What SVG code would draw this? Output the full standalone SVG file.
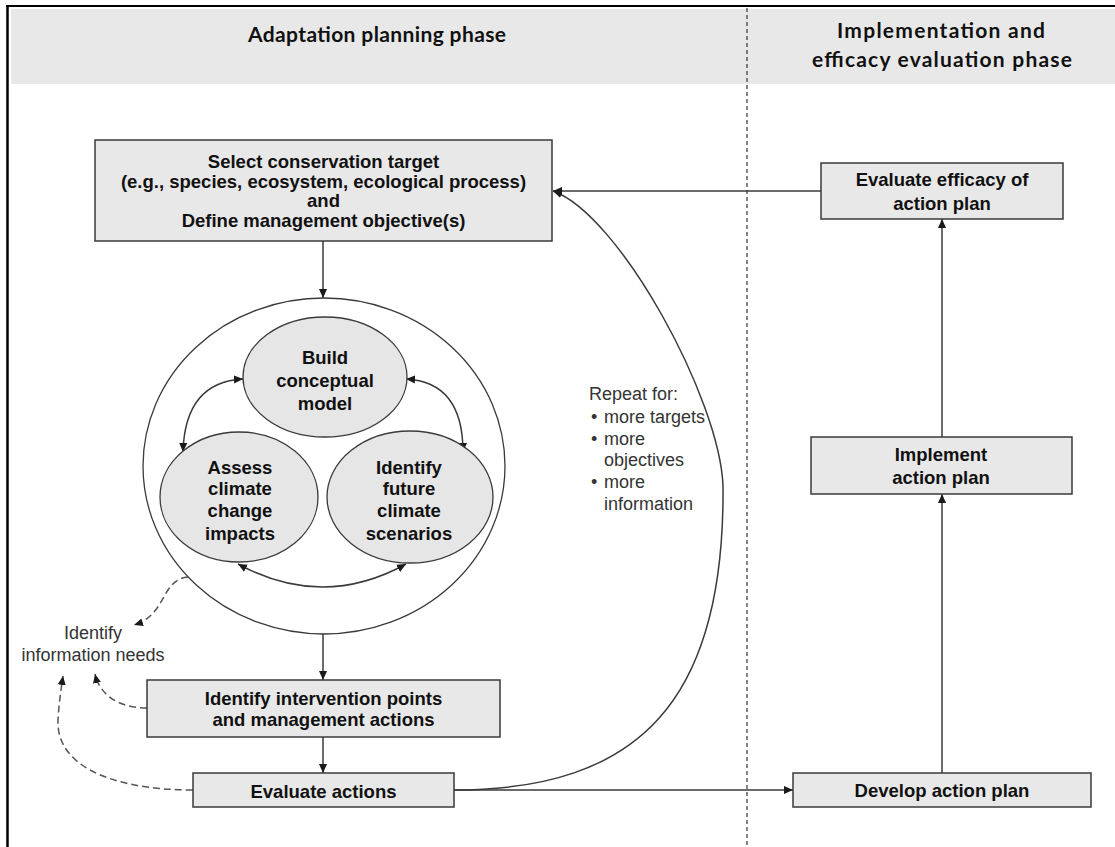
<svg xmlns="http://www.w3.org/2000/svg" width="1115" height="847" viewBox="0 0 1115 847">
<defs>
<marker id="arr" viewBox="0 0 10 10" refX="10" refY="5" markerWidth="9" markerHeight="9" markerUnits="userSpaceOnUse" orient="auto-start-reverse"><path d="M0,0.5 L10,5 L0,9.5 z" fill="#1a1a1a"/></marker>
<style>
.box{fill:#e8e8e8;stroke:#3a3a3a;stroke-width:1.5}
.ell{fill:#e6e6e6;stroke:#3a3a3a;stroke-width:1.3}
.t{font-family:"Liberation Sans",Arial,sans-serif;font-weight:bold;font-size:18.5px;fill:#111;text-anchor:middle}
.n{font-family:"Liberation Sans",Arial,sans-serif;font-size:18px;fill:#333}
.h{font-family:Lato,"Open Sans",sans-serif;font-weight:bold;font-size:21px;fill:#111;text-anchor:middle}
.ln{fill:none;stroke:#3a3a3a;stroke-width:1.5}
.dl{fill:none;stroke:#555;stroke-width:1.5;stroke-dasharray:7 4}
</style>
</defs>
<rect x="0" y="0" width="1115" height="847" fill="#fff"/>
<g id="header">
<rect x="11" y="9" width="1104" height="75" fill="#e8e8e8"/>
<line x1="6" y1="6" x2="1115" y2="6" stroke="#000" stroke-width="2"/>
<line x1="7.5" y1="5" x2="7.5" y2="847" stroke="#000" stroke-width="2.5"/>
<line x1="747" y1="8" x2="747" y2="847" stroke="#333" stroke-width="1.2" stroke-dasharray="4 3"/>
<text class="h" x="377" y="42" textLength="258" lengthAdjust="spacing">Adaptation planning phase</text>
<text class="h" x="941" y="38" textLength="208" lengthAdjust="spacing">Implementation and</text>
<text class="h" x="942" y="67" textLength="260" lengthAdjust="spacing">efficacy evaluation phase</text>
</g>
<g id="connectors">
<path class="ln" d="M323,241 L323,298" marker-end="url(#arr)"/>
<path class="ln" d="M243,379 Q185,382 183,452" marker-start="url(#arr)" marker-end="url(#arr)"/>
<path class="ln" d="M406,379 Q463,382 463,452" marker-start="url(#arr)" marker-end="url(#arr)"/>
<path class="ln" d="M238,564 Q323,610 406,564" marker-start="url(#arr)" marker-end="url(#arr)"/>
<path class="ln" d="M323,634 L323,680" marker-end="url(#arr)"/>
<path class="ln" d="M323,737 L323,773" marker-end="url(#arr)"/>
<path class="ln" d="M454,790 L793,790" marker-end="url(#arr)"/>
<path class="ln" d="M454,790 C640,790 725,700 723,486 C720,400 620,215 553,191" marker-end="url(#arr)"/>
<path class="ln" d="M821,191 L553,191" marker-end="url(#arr)"/>
<path class="ln" d="M942,773 L942,494" marker-end="url(#arr)"/>
<path class="ln" d="M942,437 L942,219" marker-end="url(#arr)"/>
<path class="dl" d="M188,577 C160,580 168,614 134,625" marker-end="url(#arr)"/>
<path class="dl" d="M147,708 C120,708 100,696 95,674" marker-end="url(#arr)"/>
<path class="dl" d="M193,790 C110,790 56,765 58,720 C59,702 61,690 63,676" marker-end="url(#arr)"/>
</g>
<g id="select-target">
<rect class="box" x="95" y="140" width="457" height="101"/>
<text class="t" x="323.5" y="168">Select conservation target</text>
<text class="t" x="323.5" y="188">(e.g., species, ecosystem, ecological process)</text>
<text class="t" x="323.5" y="207">and</text>
<text class="t" x="323.5" y="227">Define management objective(s)</text>
</g>
<g id="assessment-cycle">
<ellipse cx="324" cy="466" rx="181" ry="168" fill="none" stroke="#3a3a3a" stroke-width="1.3"/>
</g>
<g id="build-model">
<ellipse class="ell" cx="325" cy="377" rx="82" ry="60"/>
<text class="t" x="325" y="363.5">Build</text>
<text class="t" x="325" y="386.5">conceptual</text>
<text class="t" x="325" y="409.5">model</text>
</g>
<g id="assess-impacts">
<ellipse class="ell" cx="239" cy="497" rx="79" ry="65"/>
<text class="t" x="240" y="473.5">Assess</text>
<text class="t" x="240" y="495">climate</text>
<text class="t" x="240" y="517">change</text>
<text class="t" x="240" y="539.5">impacts</text>
</g>
<g id="identify-scenarios">
<ellipse class="ell" cx="410" cy="497" rx="83" ry="66"/>
<text class="t" x="409" y="473.5">Identify</text>
<text class="t" x="409" y="495">future</text>
<text class="t" x="409" y="517">climate</text>
<text class="t" x="409" y="539.5">scenarios</text>
</g>
<g id="info-needs">
<text class="n" x="93" y="639" text-anchor="middle">Identify</text>
<text class="n" x="93" y="661" text-anchor="middle">information needs</text>
</g>
<g id="intervention">
<rect class="box" x="147" y="680" width="353" height="57"/>
<text class="t" x="323.5" y="704.5">Identify intervention points</text>
<text class="t" x="323.5" y="725.5">and management actions</text>
</g>
<g id="evaluate-actions">
<rect class="box" x="193" y="773" width="261" height="34"/>
<text class="t" x="323.5" y="797.5">Evaluate actions</text>
</g>
<g id="repeat-note">
<text class="n" x="589" y="400">Repeat for:</text>
<text class="n" x="591" y="423">•</text><text class="n" x="604" y="423">more targets</text>
<text class="n" x="591" y="445">•</text><text class="n" x="604" y="445">more</text>
<text class="n" x="604" y="466">objectives</text>
<text class="n" x="591" y="488">•</text><text class="n" x="604" y="488">more</text>
<text class="n" x="604" y="510">information</text>
</g>
<g id="evaluate-efficacy">
<rect class="box" x="821" y="163" width="242" height="56"/>
<text class="t" x="942" y="185.5">Evaluate efficacy of</text>
<text class="t" x="942" y="209.5">action plan</text>
</g>
<g id="implement">
<rect class="box" x="811" y="437" width="261" height="57"/>
<text class="t" x="941" y="461">Implement</text>
<text class="t" x="941" y="484">action plan</text>
</g>
<g id="develop">
<rect class="box" x="793" y="773" width="298" height="34"/>
<text class="t" x="942" y="797">Develop action plan</text>
</g>
</svg>
